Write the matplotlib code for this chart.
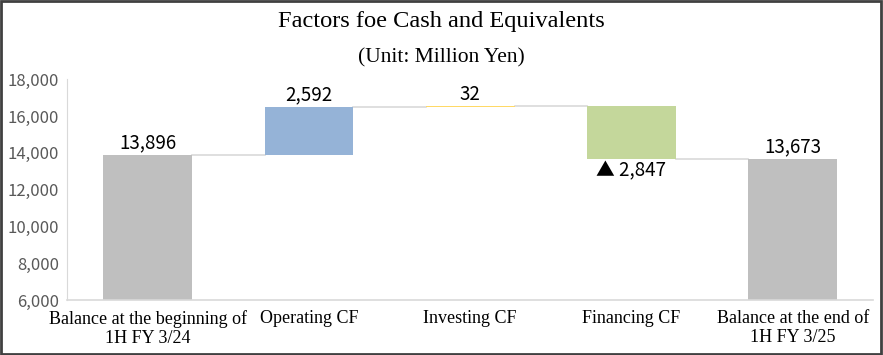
import matplotlib
matplotlib.use("Agg")
import matplotlib.pyplot as plt
from matplotlib.patches import Rectangle

# data
categories = ["Balance at the beginning of\n1H FY 3/24", "Operating CF", "Investing CF",
              "Financing CF", "Balance at the end of\n1H FY 3/25"]
start_balance = 13896
changes = [2592, 32, -2847]
end_balance = 13673
bar_colors = ["#BFBFBF", "#95B3D7", "#FFD966", "#C4D79B", "#BFBFBF"]
yticks = [6000, 8000, 10000, 12000, 14000, 16000, 18000]

fig = plt.figure(figsize=(8.83, 3.55), dpi=100)
ax = fig.add_axes([0.076, 0.155, 0.913, 0.622])

# waterfall bottoms / heights
bottoms = [0]
heights = [start_balance]
level = start_balance
for c in changes:
    bottoms.append(min(level, level + c))
    heights.append(abs(c))
    level += c
bottoms.append(0)
heights.append(end_balance)

x = list(range(len(categories)))
ax.bar(x, heights, bottom=bottoms, width=0.55, color=bar_colors, zorder=2)

# connector lines
levels = [start_balance]
for c in changes:
    levels.append(levels[-1] + c)
for i in range(len(x) - 1):
    ax.plot([x[i] + 0.275, x[i + 1] - 0.275], [levels[i], levels[i]],
            color="#D9D9D9", lw=1.2, zorder=1)

# labels
lab_font = dict(family=["Noto Sans CJK JP", "DejaVu Sans"], fontsize=13.5, color="black")
ax.text(0, start_balance + 80, "{:,}".format(start_balance), ha="center", va="bottom", **lab_font)
for i, c in enumerate(changes):
    top = bottoms[i + 1] + heights[i + 1]
    if c >= 0:
        ax.text(i + 1, top + 80, "{:,}".format(c), ha="center", va="bottom", **lab_font)
    else:
        ax.text(i + 1, bottoms[i + 1] - 80, "▲ {:,}".format(-c), ha="center", va="top", **lab_font)
ax.text(4, end_balance + 80, "{:,}".format(end_balance), ha="center", va="bottom", **lab_font)

ax.set_xlim(-0.5, 4.5)
ax.set_ylim(6000, 18000)
ax.set_yticks(yticks)
ax.set_yticklabels(["{:,}".format(v) for v in yticks],
                   family=["Noto Sans CJK JP", "DejaVu Sans"], fontsize=12, color="#595959")
ax.set_xticks(x)
ax.set_xticklabels(categories, family="Liberation Serif", fontsize=13, linespacing=1.15)
ax.tick_params(axis="both", length=0)
ax.tick_params(axis="x", pad=7)
ax.tick_params(axis="y", pad=6)

for s in ["top", "right"]:
    ax.spines[s].set_visible(False)
ax.spines["left"].set_color("#D9D9D9")
ax.spines["bottom"].set_color("#D9D9D9")
ax.spines["bottom"].set_linewidth(1.2)

fig.text(0.5, 0.94, "Factors foe Cash and Equivalents", ha="center", va="center",
         family="Liberation Serif", fontsize=17.6)
fig.text(0.5, 0.837, "(Unit: Million Yen)", ha="center", va="center",
         family="Liberation Serif", fontsize=15.5)

fig.patches.append(Rectangle((0.001, 0.002), 0.997, 0.995, transform=fig.transFigure,
                             fill=False, edgecolor="#404040", lw=2))

fig.savefig("out.png", dpi=100)
